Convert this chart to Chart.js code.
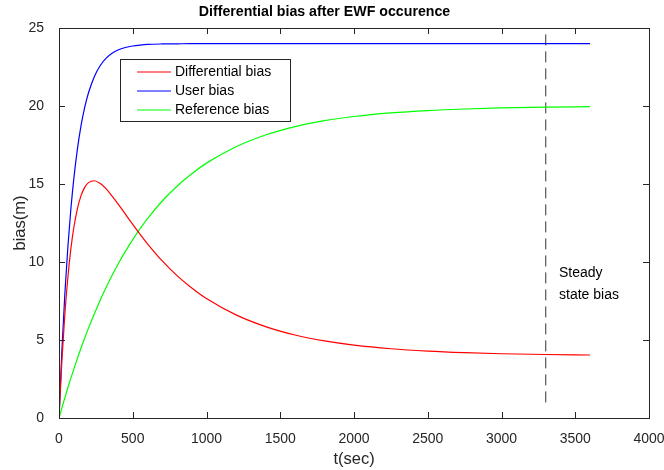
<!DOCTYPE html>
<html>
<head>
<meta charset="utf-8">
<script src="https://cdn.jsdelivr.net/npm/chart.js@4.4.1/dist/chart.umd.min.js"></script>
<style>
  html, body { margin: 0; background: #fff; }
</style>
</head>
<body>
<canvas id="c" width="664" height="470"></canvas>
<script>
// Datos (t en segundos, sesgos en metros)
const TIME = [0, 20, 40, 60, 80, 100, 125, 150, 175, 200, 240, 280, 320, 360, 400, 450, 500, 550, 600,
  700, 800, 900, 1000, 1200, 1400, 1600, 1800, 2000, 2250, 2500, 2750, 3000, 3300, 3600];
const DIFFERENTIAL_BIAS = [0, 3.74, 6.70, 9.01, 10.81, 12.18, 13.43, 14.27, 14.80, 15.09, 15.21, 15.03, 14.69,
  14.23, 13.73, 13.07, 12.41, 11.77, 11.17, 10.07, 9.13, 8.34, 7.66, 6.61, 5.86, 5.32, 4.94, 4.67, 4.44,
  4.29, 4.19, 4.12, 4.07, 4.04];
const USER_BIAS = [0, 4.41, 8.01, 10.95, 13.35, 15.30, 17.25, 18.77, 19.94, 20.85, 21.90, 22.60, 23.07,
  23.38, 23.59, 23.75, 23.85, 23.91, 23.95, 23.98, 23.99, 24, 24, 24, 24, 24, 24, 24, 24, 24, 24, 24, 24, 24];
const REFERENCE_BIAS = [0, 0.67, 1.31, 1.94, 2.54, 3.12, 3.82, 4.50, 5.14, 5.76, 6.69, 7.57, 8.38, 9.15,
  9.86, 10.68, 11.44, 12.14, 12.78, 13.91, 14.86, 15.66, 16.34, 17.39, 18.14, 18.68, 19.06, 19.33, 19.56,
  19.71, 19.81, 19.88, 19.93, 19.96];
const STEADY_X = [3300, 3300];
const STEADY_Y = [1, 25];
const X_TICKS = [0, 500, 1000, 1500, 2000, 2500, 3000, 3500, 4000];
const Y_TICKS = [0, 5, 10, 15, 20, 25];
const SERIES_LABELS = ["Differential bias", "User bias", "Reference bias"];
const SERIES_COLORS = ["#ff0000", "#0000ff", "#00ff00"];
const NOTE_LINES = ["Steady", "state bias"];

const FONT = "Liberation Sans, Arial, Helvetica, sans-serif";
const AXIS = "#262626";

const pts = (xs, ys) => xs.map((x, i) => ({ x, y: ys[i] }));

// Ejes al estilo MATLAB: caja, marcas hacia dentro, leyenda y nota
const matlabAxes = {
  id: "matlabAxes",
  afterDatasetsDraw(chart) {
    const { ctx, chartArea: a, scales: { x, y } } = chart;
    const tl = 6;
    ctx.save();
    ctx.strokeStyle = AXIS;
    ctx.lineWidth = 1;
    ctx.beginPath();
    X_TICKS.forEach(v => {
      const px = Math.round(x.getPixelForValue(v)) + 0.5;
      ctx.moveTo(px, a.bottom); ctx.lineTo(px, a.bottom - tl);
      ctx.moveTo(px, a.top); ctx.lineTo(px, a.top + tl);
    });
    Y_TICKS.forEach(v => {
      const py = Math.round(y.getPixelForValue(v)) + 0.5;
      ctx.moveTo(a.left, py); ctx.lineTo(a.left + tl, py);
      ctx.moveTo(a.right, py); ctx.lineTo(a.right - tl, py);
    });
    ctx.stroke();
    ctx.strokeRect(Math.round(a.left) + 0.5, Math.round(a.top) + 0.5,
      Math.round(a.right - a.left), Math.round(a.bottom - a.top));

    // leyenda
    const lx = 120.5, ly = 59.5, lw = 170, lh = 62;
    ctx.fillStyle = "#fff";
    ctx.fillRect(lx, ly, lw, lh);
    ctx.strokeRect(lx, ly, lw, lh);
    ctx.font = `14px ${FONT}`;
    ctx.textBaseline = "middle";
    ctx.textAlign = "left";
    SERIES_LABELS.forEach((lab, i) => {
      const ry = 72 + i * 19;
      ctx.strokeStyle = SERIES_COLORS[i];
      ctx.lineWidth = 1.2;
      ctx.beginPath();
      ctx.moveTo(137, ry); ctx.lineTo(171, ry);
      ctx.stroke();
      ctx.fillStyle = "#000";
      ctx.fillText(lab, 175, ry + 0.5);
    });

    // nota "Steady state bias"
    ctx.fillStyle = "#000";
    const nx = x.getPixelForValue(3390);
    const ny = y.getPixelForValue(8.6);
    ctx.fillText(NOTE_LINES[0], nx, ny - 11);
    ctx.fillText(NOTE_LINES[1], nx, ny + 11);
    ctx.restore();
  },
};

const line = (data, color) => ({
  data, borderColor: color, borderWidth: 1.2, pointRadius: 0,
  cubicInterpolationMode: "monotone", fill: false,
});

new Chart(document.getElementById("c"), {
  type: "line",
  data: {
    datasets: [
      line(pts(TIME, DIFFERENTIAL_BIAS), SERIES_COLORS[0]),
      line(pts(TIME, USER_BIAS), SERIES_COLORS[1]),
      line(pts(TIME, REFERENCE_BIAS), SERIES_COLORS[2]),
      { data: pts(STEADY_X, STEADY_Y), borderColor: "#333", borderWidth: 1,
        borderDash: [11, 6], pointRadius: 0 },
    ],
  },
  options: {
    responsive: false,
    animation: false,
    devicePixelRatio: 1,
    layout: { padding: { left: 0, right: 15, top: 0, bottom: 0 } },
    plugins: {
      legend: { display: false },
      tooltip: { enabled: false },
      title: {
        display: true,
        text: "Differential bias after EWF occurence",
        color: "#000",
        font: { family: FONT, size: 14.2, weight: "bold", lineHeight: 1.2 },
        padding: { top: 4, bottom: 7 },
      },
    },
    scales: {
      x: {
        type: "linear", min: 0, max: 4000,
        afterBuildTicks: s => { s.ticks = X_TICKS.map(v => ({ value: v })); },
        afterFit: s => { s.height = 52; s.paddingLeft = 0; s.paddingRight = 0; },
        grid: { display: false },
        border: { display: false },
        ticks: { color: AXIS, padding: 5, font: { family: FONT, size: 14 }, maxRotation: 0,
          callback: v => String(v) },
        title: { display: true, text: "t(sec)", color: AXIS,
          font: { family: FONT, size: 16.5 }, padding: { top: 0, bottom: 1 } },
      },
      y: {
        type: "linear", min: 0, max: 25,
        afterBuildTicks: s => { s.ticks = Y_TICKS.map(v => ({ value: v })); },
        afterFit: s => { s.width = 59; s.paddingTop = 0; s.paddingBottom = 0; },
        grid: { display: false },
        border: { display: false },
        ticks: { color: AXIS, padding: 7, font: { family: FONT, size: 14 },
          callback: v => String(v) },
        title: { display: true, text: "bias(m)", color: AXIS,
          font: { family: FONT, size: 16.5 }, padding: { top: 11, bottom: 0 } },
      },
    },
  },
  plugins: [matlabAxes],
});
</script>
</body>
</html>
